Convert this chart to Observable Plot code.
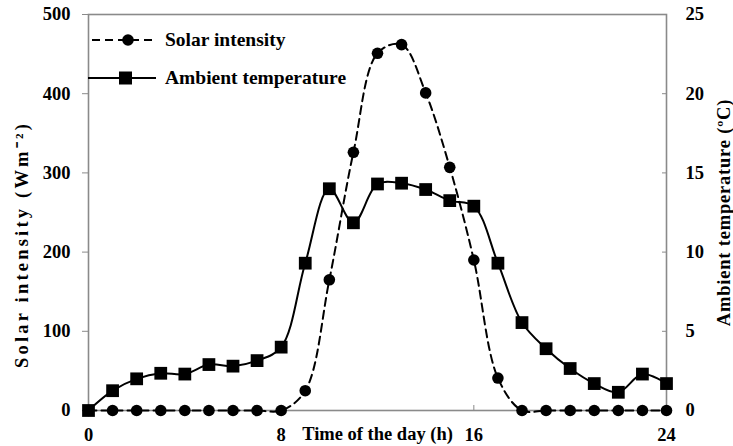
<!DOCTYPE html>
<html>
<head>
<meta charset="utf-8">
<script src="https://cdn.jsdelivr.net/npm/d3@7"></script>
<script src="https://cdn.jsdelivr.net/npm/@observablehq/plot@0.6"></script>
<style>
  body { margin: 0; background: #fff; }
  #wrap { position: relative; width: 733px; height: 446px; font-family: "Liberation Serif", "Times New Roman", serif; font-weight: bold; }
  #legend { position: absolute; left: 88px; top: 28px; font-size: 19.5px; }
  .row { display: flex; align-items: center; height: 24px; margin-bottom: 14px; }
  .row svg { display: block; margin-right: 7px; }
  g[aria-label="y-axis tick"], g[aria-label="x-axis tick"] { stroke: #8a8a8a; }
  svg text { font-family: "Liberation Serif", "Times New Roman", serif; }
</style>
</head>
<body>
<div id="wrap"></div>
<script>
// ---- data ----
const hours = [0, 1, 2, 3, 4, 5, 6, 7, 8, 9, 10, 11, 12, 13, 14, 15, 16, 17, 18, 19, 20, 21, 22, 23, 24];
const solarIntensity = [0, 0, 0, 0, 0, 0, 0, 0, 0, 25, 165, 326, 451, 462, 401, 307, 190, 41, 0, 0, 0, 0, 0, 0, 0];
const ambientTemperature = [0, 1.25, 2.0, 2.35, 2.3, 2.9, 2.8, 3.15, 4.0, 9.3, 14.0, 11.85, 14.3, 14.35, 13.95, 13.25, 12.9, 9.3, 5.55, 3.9, 2.65, 1.7, 1.15, 2.3, 1.7];
const xTicks = [0, 8, 16, 24];
const solarTicks = [0, 100, 200, 300, 400, 500];
const tempTicks = [0, 5, 10, 15, 20, 25];
const xTitle = "Time of the day (h)";
const leftTitle = "Solar intensity (Wm\u207B\u00B2)";
const rightTitle = "Ambient temperature (\u00BAC)";
const seriesNames = ["Solar intensity", "Ambient temperature"];

// right axis (°C) shares the left scale: 25 °C ↔ 500 W/m²
const TEMP_FACTOR = 500 / 25;

const solarData = hours.map((h, i) => ({h, v: solarIntensity[i]}));
const tempData = hours.map((h, i) => ({h, v: ambientTemperature[i] * TEMP_FACTOR}));

const FONT = "'Liberation Serif', 'Times New Roman', serif";
const FS = 18.5;

const chart = Plot.plot({
  width: 733,
  height: 446,
  marginLeft: 88,
  marginRight: 67,
  marginTop: 14,
  marginBottom: 36,
  style: {fontFamily: FONT, fontSize: FS + "px", fontWeight: "bold", background: "#fff", color: "#000"},
  x: {domain: [0, 24], nice: false},
  y: {domain: [0, 500], nice: false},
  marks: [
    Plot.frame({stroke: "#8a8a8a", strokeWidth: 1.6}),
    Plot.axisY({anchor: "left", ticks: solarTicks, tickSize: 6, tickPadding: 12, label: null, fontSize: FS}),
    Plot.axisY({anchor: "right", ticks: tempTicks.map(t => t * TEMP_FACTOR), tickFormat: d => d / TEMP_FACTOR, tickSize: -5, tickPadding: 24, label: null, fontSize: FS}),
    Plot.axisX({anchor: "bottom", ticks: xTicks, tickSize: -5, tickPadding: 22, label: null, fontSize: FS}),
    Plot.text([xTitle], {frameAnchor: "bottom", textAnchor: "middle", dy: 24, lineAnchor: "middle", fontSize: FS, fontFamily: FONT}),
    Plot.text([leftTitle], {frameAnchor: "left", textAnchor: "middle", rotate: -90, dx: -66, dy: 32, lineAnchor: "middle", fontSize: FS, fontFamily: FONT}),
    Plot.text([rightTitle], {frameAnchor: "right", textAnchor: "middle", rotate: -90, dx: 58, dy: 0, lineAnchor: "middle", fontSize: FS, fontFamily: FONT}),
    Plot.line(tempData, {x: "h", y: "v", curve: "catmull-rom", stroke: "#000", strokeWidth: 2}),
    Plot.line(solarData, {x: "h", y: "v", curve: "catmull-rom", stroke: "#000", strokeWidth: 2, strokeDasharray: "8,5"}),
    Plot.dot(solarData, {x: "h", y: "v", r: 5.8, fill: "#000", stroke: "none"}),
    Plot.dot(tempData, {x: "h", y: "v", r: 7.2, symbol: "square", fill: "#000", stroke: "none"})
  ]
});

d3.select(chart).selectAll("text")
  .filter(function () { return this.textContent === leftTitle; })
  .style("letter-spacing", "3.2px");
d3.select(chart).selectAll("text")
  .filter(function () { return this.textContent === rightTitle; })
  .style("letter-spacing", "0.8px");

const wrap = document.getElementById("wrap");
wrap.appendChild(chart);

// legend
const legend = d3.select(wrap).append("div").attr("id", "legend");
const r1 = legend.append("div").attr("class", "row");
const s1 = r1.append("svg").attr("width", 70).attr("height", 24);
s1.append("line").attr("x1", 4).attr("x2", 66).attr("y1", 12).attr("y2", 12)
  .attr("stroke", "#000").attr("stroke-width", 2).attr("stroke-dasharray", "8,5");
s1.append("circle").attr("cx", 40).attr("cy", 12).attr("r", 5.8).attr("fill", "#000");
r1.append("span").text(seriesNames[0]);
const r2 = legend.append("div").attr("class", "row");
const s2 = r2.append("svg").attr("width", 70).attr("height", 24);
s2.append("line").attr("x1", 0).attr("x2", 68).attr("y1", 12).attr("y2", 12)
  .attr("stroke", "#000").attr("stroke-width", 2);
s2.append("rect").attr("x", 31).attr("y", 5.5).attr("width", 13).attr("height", 13).attr("fill", "#000");
r2.append("span").text(seriesNames[1]);
</script>
</body>
</html>
